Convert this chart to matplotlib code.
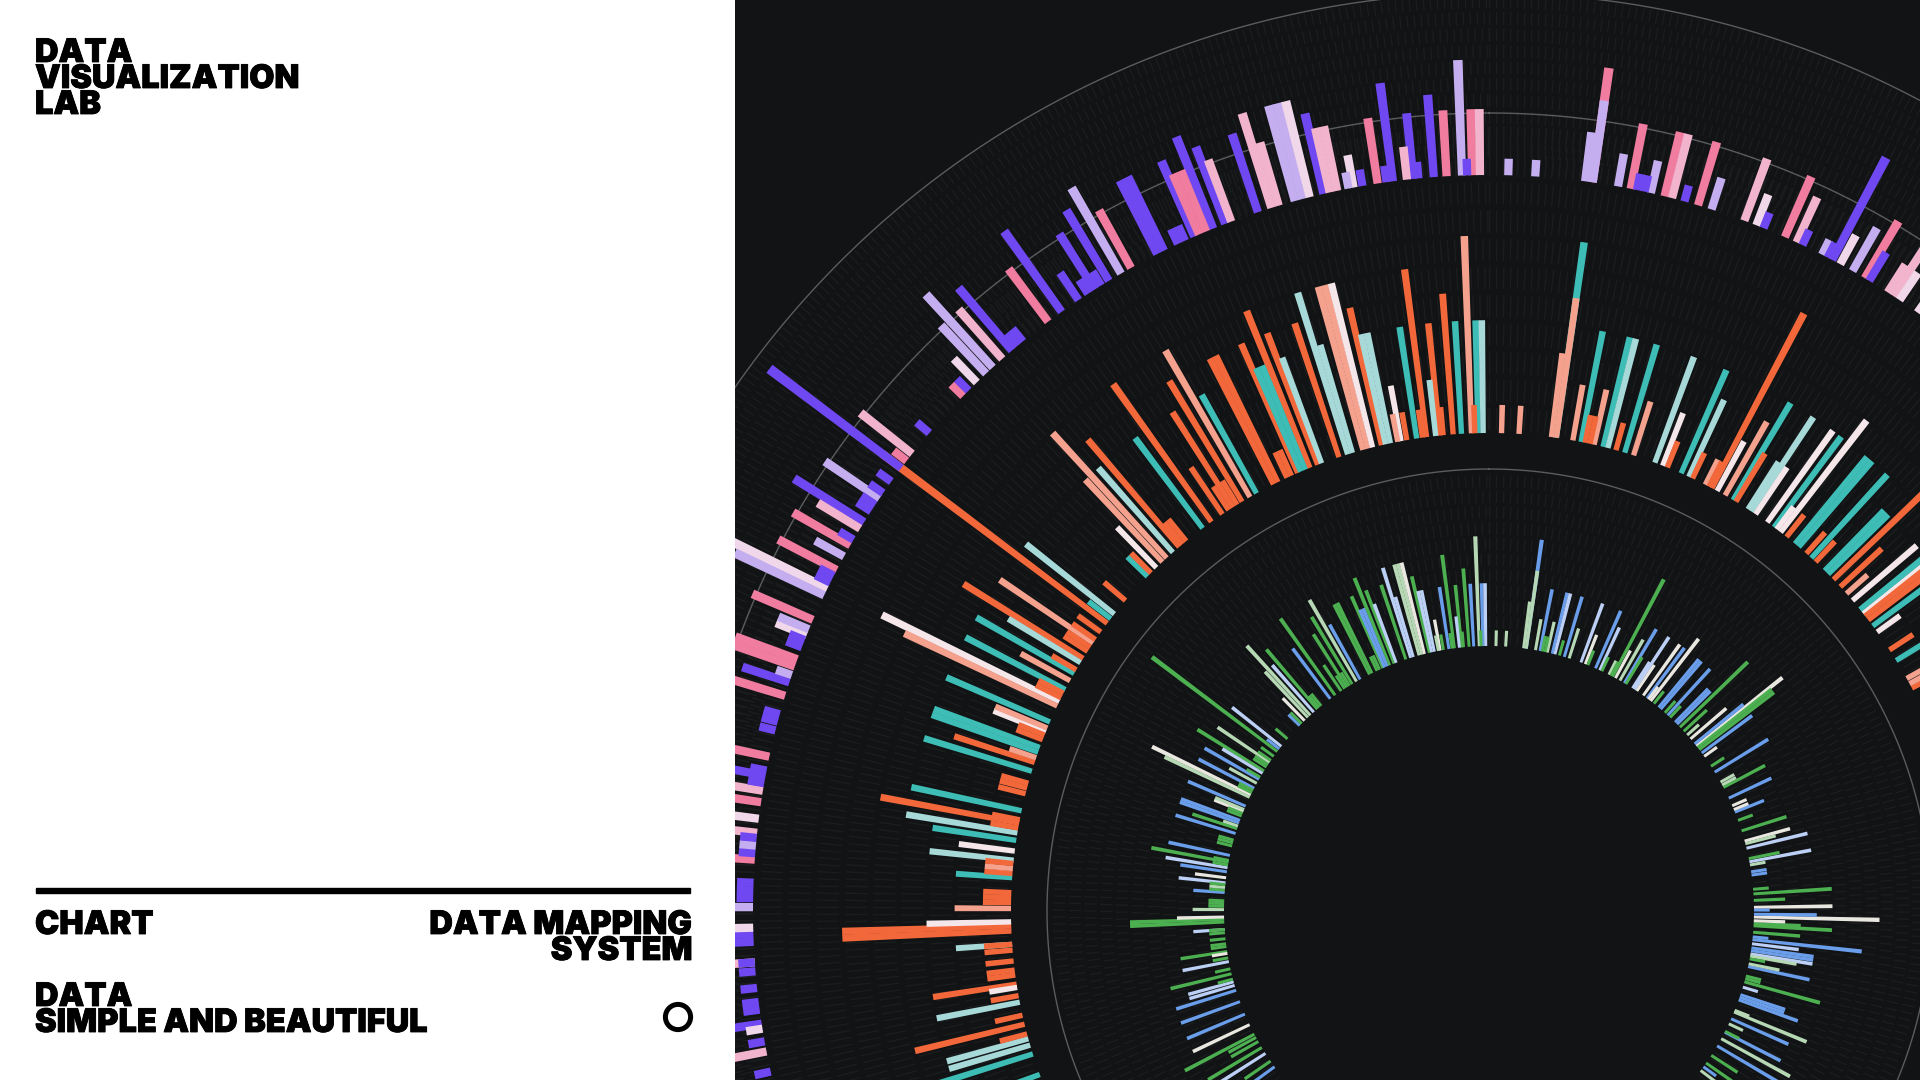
import numpy as np
import matplotlib
matplotlib.use("Agg")
import matplotlib.pyplot as plt
import matplotlib.patheffects as pe
from matplotlib.patches import Circle, Rectangle

theta_deg = [
 -126,-124.5,-122.5,-121,-119.5,-118.5,-117.7,-115.4,-112.9,-110,-107.4,-106.3,-105.5,-104.9,-103.7,-102.6,-101,-100.2,-99.2,-98.8,
 -97.7,-97.1,-96,-94.7,-94,-94,-92.4,-91.8,-91.3,-89.7,-89,-88.4,-87.8,-86,-85.5,-84.9,-84.3,-83.9,-82.8,-81.5,
 -80.6,-80,-79.4,-79,-77.9,-75.8,-75.1,-74.5,-73,-71.9,-71.3,-70.6,-70.0,-69,-68.4,-68,-67.5,-66.7,-64.6,
 -64,-63.5,-62.9,-62.4,-61.2,-60.2,-59.7,-58.7,-58.1,-57.1,-56.5,-55.9,-55.4,-54.3,-53,-52.3,-51.6,-49.5,-45.6,-45,
 -44.1,-43.1,-42.4,-41.4,-40.4,-39.9,-39.3,-36.8,-35.5,-33.9,-33,-32.4,-31.8,-31.1,-30,-29.1,-26.8,-26.2,-25,-24.4,
 -23.6,-23.2,-22.6,-22,-21,-20.5,-18.3,-17.2,-16.6,-15.3,-14.7,-14.1,-13,-12.5,-11.9,-11,-10.6,-9.9,-8.7,-8,
 -7.5,-6.4,-5.9,-5.5,-4.3,-3.3,-2.1,-1.7,-1.3,-0.7,
 1.5,3.6,7.5,8.1,8.1,10.1,11.1,11.6,12.2,12.7,13.8,14.4,15.4,16.5,17.6,20.3,21.3,21.9,23.7,
 24.7,25.2,26.9,27.4,27.8,28.5,29.6,30.7,31.1,32.8,33.3,33.9,35.6,36.6,37,37.6,38.5,39.8,40.4,41.6,
 42.4,43.1,44.6,45.2,46.1,47.3,48.4,49.5,50.9,51.5,51.9,52.5,53.4,54.3,56.9,58.4,60.9,61.6,62.2,
 64.8,66.6,67.5,68.1,70,72.4,74.7,75.3,76.3,78.6,79.3,80,81.5,82.2,85.3,86.3,87.7,89.2,89.8,90.7,
 91.3,92.1,92.7,93.2,94.6,95.6,96.2,97.1,98,98.6,99.3,99.8,100.4,101.5,102.1,104.2,104.8,105.5,106.7,108.4,
 109,109.6,112,112.4,114,115.2,117,117.2,118.8,120.6,123,125,126,127,
]
values = [
 2,2,4,4,2,2,5,4,4,4,4,3,3,1,4,1,3,1,1,3,
 1,1,1,1,2,1,6,6,3,2,1,1,1,2,1,1,1,3,2,3,
 4,1,5,1,4,1,1,1,4,3,1,4,4,1,1,2,2,4,6,
 7,1,1,4,2,4,1,3,5,1,1,4,1,1,10,1,4,1,1,1,
 2,4,6,4,5,1,1,4,6,2,1,4,1,5,6,4,5,5,1,1,
 5,4,4,6,5,4,5,6,4,6,6,6,5,4,4,1,2,1,4,1,
 6,2,4,1,5,4,7,1,4,4,
 1,1,3,7,5,2,4,1,1,2,4,4,1,4,2,4,2,1,4,
 3,1,1,1,7,2,3,4,2,2,4,2,4,4,1,5,1,4,4,1,
 4,1,3,3,6,2,1,3,4,7,6,6,4,1,1,4,1,1,3,
 3,1,1,2,1,3,3,2,4,2,4,1,1,1,1,5,2,5,1,4,
 8,2,3,5,3,1,7,3,4,4,4,3,1,2,4,1,1,5,1,3,
 3,4,1,5,4,1,1,4,5,5,2,2,1,2,
]
kinds = [
 2,0,3,0,0,0,0,4,2,2,2,3,3,0,0,0,3,0,4,0,
 0,0,0,0,3,0,0,0,4,1,0,0,0,2,0,1,0,3,4,2,
 3,0,0,0,2,0,0,0,2,0,1,2,2,0,0,4,1,2,1,
 4,0,0,2,1,2,0,3,0,0,0,1,0,0,0,2,3,0,2,0,
 4,1,1,3,0,0,0,2,0,0,0,0,0,0,1,2,0,0,0,0,
 0,2,2,0,0,3,0,3,3,1,1,4,0,3,3,1,4,0,2,0,
 0,3,0,0,0,2,1,0,2,3,
 1,1,1,2,1,1,2,0,0,1,2,3,0,2,1,3,4,0,2,
 3,0,1,0,0,4,1,2,0,3,3,4,4,2,4,4,0,2,2,0,
 2,0,2,2,0,0,1,4,2,4,0,0,2,4,0,2,1,1,0,
 2,4,4,2,0,0,4,1,3,0,3,1,2,2,0,0,0,4,2,2,
 4,4,0,0,0,2,2,3,2,2,3,1,0,1,2,0,0,0,3,2,
 2,2,1,1,2,1,0,2,1,2,0,0,2,1,
]
ring_bases = [265, 478, 736]
ring_units = [15.7, 28.2, 16.5]
ring_palettes = [
    ["#4caf50", "#b7d8b5", "#6a9eea", "#bccff5", "#e9e7e0"],
    ["#f2683a", "#f4a18e", "#3dbdb5", "#a7d9d9", "#f5e6ea"],
    ["#7048f2", "#c4aef0", "#f07ca0", "#f2b4cc", "#f0d8ea"],
]
guide_radii = [442, 798, 918]
slot_width_deg = 0.64

plt.rcParams["lines.scale_dashes"] = False
DARK = "#111315"
CX, CY, R = 1489, 911, 1100
W, H = 1920, 1080
PX = 72 / 100

fig = plt.figure(figsize=(19.2, 10.8), dpi=100, facecolor=DARK)
ax = fig.add_axes([(CX - R) / W, (H - CY - R) / H, 2 * R / W, 2 * R / H], projection="polar")
ax.set_theta_zero_location("N")
ax.set_theta_direction(-1)
ax.set_ylim(0, R)
ax.set_axis_off()

t = np.linspace(0, 2 * np.pi, 1500)
for base, unit in zip(ring_bases, ring_units):
    for k in range(11):
        ax.plot(t, np.full_like(t, base + unit * (k + 0.5)), color="#1b1d1f",
                lw=unit * 0.78 * PX, dashes=(1.3 * PX, 5.7 * PX), dash_capstyle="butt", zorder=1)
for r in guide_radii:
    ax.plot(t, np.full_like(t, r), color="#5a5c5e", lw=1.0, zorder=2)

th = np.deg2rad(theta_deg)
val = np.array(values, float)
kin = np.array(kinds)
order = np.argsort(-val, kind="stable")
for base, unit, pal in zip(ring_bases, ring_units, ring_palettes):
    ax.bar(th[order], val[order] * unit, bottom=base, width=np.deg2rad(slot_width_deg),
           color=[pal[i] for i in kin[order]], linewidth=0, zorder=3)

left = fig.add_axes([0, 0, 734.5 / W, 1], zorder=5)
left.set_xlim(0, 734.5)
left.set_ylim(H, 0)
left.set_axis_off()
left.add_patch(Rectangle((0, 0), 734.5, H, color="white", zorder=0))
left.add_patch(Rectangle((36, 888), 654, 5, color="black", zorder=1))
left.add_patch(Circle((678, 1017), 12.6, fill=False, ec="black", lw=3.6, zorder=1))

font = dict(family="Inter", weight="black", fontsize=23.4, color="black", va="baseline",
            path_effects=[pe.withStroke(linewidth=0.6, foreground="black")])
for s, y in [("DATA", 62), ("VISUALIZATION", 88), ("LAB", 114), ("CHART", 934),
             ("DATA", 1006), ("SIMPLE AND BEAUTIFUL", 1032)]:
    left.text(35, y, s, ha="left", **font)
for s, y in [("DATA MAPPING", 934), ("SYSTEM", 960)]:
    left.text(692, y, s, ha="right", **font)

fig.savefig("out.png", dpi=100, facecolor=DARK)
